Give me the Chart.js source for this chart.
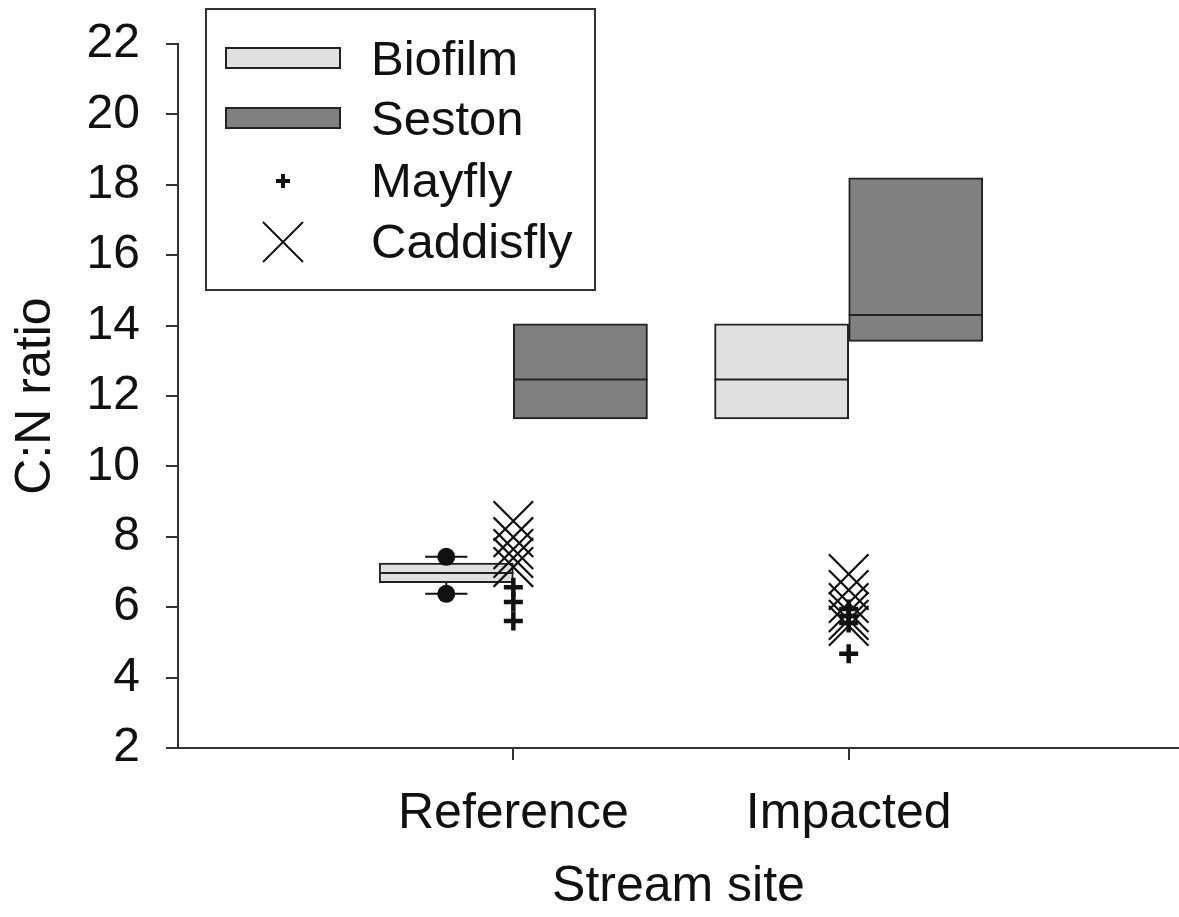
<!DOCTYPE html>
<html>
<head>
<meta charset="utf-8">
<title>C:N ratio by stream site</title>
<script src="https://cdn.jsdelivr.net/npm/chart.js@4.4.1/dist/chart.umd.min.js"></script>
<style>
    html, body { margin: 0; padding: 0; background: #fff; }
    #chart { display: block; }
</style>
</head>
<body>
<canvas id="chart" width="1179" height="917"></canvas>
<script>
// ==========================================
// Datos
// ==========================================
const sites = ['Reference', 'Impacted'];
const siteX = [1, 2];

// Biofilm: cajas (q1, mediana, q3)
const biofilmQ1 = [6.7, 11.35];
const biofilmMedian = [6.97, 12.47];
const biofilmQ3 = [7.25, 14.05];
// bigotes sólo en Reference
const biofilmLow = [6.38, null];
const biofilmHigh = [7.43, null];

// Seston: cajas
const sestonQ1 = [11.35, 13.55];
const sestonMedian = [12.47, 14.3];
const sestonQ3 = [14.05, 18.2];

// Insectos (valores individuales)
const mayflyReference = [6.57, 6.15, 5.61];
const mayflyImpacted = [5.95, 5.75, 5.55, 4.68];
const caddisflyReference = [8.45, 7.99, 7.65, 7.4, 7.14];
const caddisflyImpacted = [6.94, 6.49, 6.12, 5.86, 5.64, 5.47];

// Eje Y
const yMin = 2;
const yMax = 22;
const yStep = 2;

// ==========================================
// Estilo
// ==========================================
const FONT = "'Liberation Sans', Arial, sans-serif";
const INK = '#111';
const AXIS = '#333';
const BIOFILM_FILL = '#e0e0e0';
const SESTON_FILL = '#808080';
const BOX_EDGE = '#222';
const BOX_OFFSET = 0.2;   // separación caja/sitio (unidades de x)
const CAP_HALF = 0.063;

// ==========================================
// Construir datasets
// ==========================================
function boxes(q1, q3, shift) {
    return siteX.map((x, i) => ({ x: x + shift, y: [q1[i], q3[i]] }));
}

function medianSegments(med, shift) {
    const out = [];
    siteX.forEach((x, i) => {
        out.push({ x: x + shift - BOX_OFFSET, y: med[i] });
        out.push({ x: x + shift + BOX_OFFSET, y: med[i] });
        out.push({ x: x + shift, y: null });
    });
    return out;
}

function whiskerSegments(q1, q3, low, high, shift) {
    const out = [];
    siteX.forEach((x, i) => {
        if (low[i] == null || high[i] == null) return;
        const cx = x + shift;
        out.push({ x: cx, y: q3[i] }, { x: cx, y: high[i] }, { x: cx, y: null });
        out.push({ x: cx - CAP_HALF, y: high[i] }, { x: cx + CAP_HALF, y: high[i] }, { x: cx, y: null });
        out.push({ x: cx, y: q1[i] }, { x: cx, y: low[i] }, { x: cx, y: null });
        out.push({ x: cx - CAP_HALF, y: low[i] }, { x: cx + CAP_HALF, y: low[i] }, { x: cx, y: null });
    });
    return out;
}

function whiskerEnds(low, high, shift) {
    const out = [];
    siteX.forEach((x, i) => {
        if (high[i] != null) out.push({ x: x + shift, y: high[i] });
        if (low[i] != null) out.push({ x: x + shift, y: low[i] });
    });
    return out;
}

function points(values, x) {
    return values.map(v => ({ x: x, y: v }));
}

const datasets = [
    {
        label: 'Caddisfly',
        type: 'scatter',
        data: points(caddisflyReference, siteX[0]).concat(points(caddisflyImpacted, siteX[1])),
        pointStyle: 'crossRot',
        pointRadius: 28,
        borderColor: INK,
        borderWidth: 2.2,
        order: 0
    },
    {
        label: 'Mayfly',
        type: 'scatter',
        data: points(mayflyReference, siteX[0]).concat(points(mayflyImpacted, siteX[1])),
        pointStyle: 'cross',
        pointRadius: 9.5,
        borderColor: INK,
        borderWidth: 4.5,
        order: 0
    },
    {
        label: 'Biofilm extremes',
        type: 'scatter',
        data: whiskerEnds(biofilmLow, biofilmHigh, -BOX_OFFSET),
        pointStyle: 'circle',
        pointRadius: 9,
        backgroundColor: INK,
        borderColor: INK,
        borderWidth: 0,
        order: 1
    },
    {
        label: 'Biofilm whiskers',
        type: 'line',
        data: whiskerSegments(biofilmQ1, biofilmQ3, biofilmLow, biofilmHigh, -BOX_OFFSET),
        borderColor: INK,
        borderWidth: 2,
        pointRadius: 0,
        spanGaps: false,
        order: 2
    },
    {
        label: 'Biofilm median',
        type: 'line',
        data: medianSegments(biofilmMedian, -BOX_OFFSET),
        borderColor: BOX_EDGE,
        borderWidth: 2,
        pointRadius: 0,
        spanGaps: false,
        order: 1
    },
    {
        label: 'Seston median',
        type: 'line',
        data: medianSegments(sestonMedian, BOX_OFFSET),
        borderColor: BOX_EDGE,
        borderWidth: 2,
        pointRadius: 0,
        spanGaps: false,
        order: 1
    },
    {
        label: 'Biofilm',
        type: 'bar',
        data: boxes(biofilmQ1, biofilmQ3, -BOX_OFFSET),
        backgroundColor: BIOFILM_FILL,
        borderColor: BOX_EDGE,
        borderWidth: 2,
        borderSkipped: false,
        grouped: false,
        barPercentage: 1,
        categoryPercentage: 1,
        order: 3
    },
    {
        label: 'Seston',
        type: 'bar',
        data: boxes(sestonQ1, sestonQ3, BOX_OFFSET),
        backgroundColor: SESTON_FILL,
        borderColor: BOX_EDGE,
        borderWidth: 2,
        borderSkipped: false,
        grouped: false,
        barPercentage: 1,
        categoryPercentage: 1,
        order: 3
    }
];

// ==========================================
// Leyenda dibujada (caja arriba a la izquierda)
// ==========================================
const legendItems = [
    { label: 'Biofilm', kind: 'box', fill: BIOFILM_FILL },
    { label: 'Seston', kind: 'box', fill: SESTON_FILL },
    { label: 'Mayfly', kind: 'plus' },
    { label: 'Caddisfly', kind: 'x' }
];

const boxLegend = {
    id: 'boxLegend',
    afterDraw(chart) {
        const ctx = chart.ctx;
        ctx.save();
        ctx.strokeStyle = AXIS;
        ctx.lineWidth = 2;
        ctx.strokeRect(206, 9, 389, 281);

        const rowY = [59, 119, 181, 242];
        legendItems.forEach((item, i) => {
            const y = rowY[i];
            const cx = 283;
            if (item.kind === 'box') {
                ctx.fillStyle = item.fill;
                ctx.fillRect(226, y - 11, 114, 20);
                ctx.strokeStyle = BOX_EDGE;
                ctx.lineWidth = 2;
                ctx.strokeRect(226, y - 11, 114, 20);
            } else if (item.kind === 'plus') {
                ctx.strokeStyle = INK;
                ctx.lineWidth = 4;
                ctx.beginPath();
                ctx.moveTo(cx - 7, y); ctx.lineTo(cx + 7, y);
                ctx.moveTo(cx, y - 7); ctx.lineTo(cx, y + 7);
                ctx.stroke();
            } else {
                ctx.strokeStyle = INK;
                ctx.lineWidth = 2;
                ctx.beginPath();
                ctx.moveTo(cx - 20, y - 20); ctx.lineTo(cx + 20, y + 20);
                ctx.moveTo(cx + 20, y - 20); ctx.lineTo(cx - 20, y + 20);
                ctx.stroke();
            }
            ctx.fillStyle = INK;
            ctx.font = '49px ' + FONT;
            ctx.textAlign = 'left';
            ctx.textBaseline = 'middle';
            ctx.fillText(item.label, 371, y + 2);
        });
        ctx.restore();
    }
};

// ==========================================
// Gráfica
// ==========================================
const ctx = document.getElementById('chart');
new Chart(ctx, {
    type: 'scatter',
    data: { datasets: datasets },
    options: {
        responsive: false,
        animation: false,
        devicePixelRatio: 1,
        layout: {
            autoPadding: false,
            padding: { top: 44, right: 0, left: 0, bottom: 0 }
        },
        plugins: {
            legend: { display: false },
            tooltip: { enabled: false }
        },
        scales: {
            x: {
                type: 'linear',
                min: 0,
                max: 2.985,
                offset: false,
                afterBuildTicks: (axis) => {
                    axis.ticks = siteX.map(v => ({ value: v }));
                },
                afterFit: (axis) => {
                    axis.height = 169;
                    axis.paddingLeft = 0;
                    axis.paddingRight = 0;
                },
                grid: {
                    display: true,
                    drawOnChartArea: false,
                    offset: false,
                    tickLength: 12,
                    color: AXIS,
                    lineWidth: 2
                },
                border: { display: true, color: AXIS, width: 2 },
                ticks: {
                    color: INK,
                    font: { family: FONT, size: 50 },
                    padding: 24,
                    maxRotation: 0,
                    autoSkip: false,
                    callback: (v) => sites[siteX.indexOf(v)] || ''
                },
                title: {
                    display: true,
                    text: 'Stream site',
                    color: INK,
                    font: { family: FONT, size: 50 },
                    padding: { top: 0, bottom: 0 }
                }
            },
            y: {
                type: 'linear',
                min: yMin,
                max: yMax,
                afterFit: (axis) => {
                    axis.width = 178;
                    axis.paddingTop = 0;
                    axis.paddingBottom = 0;
                },
                grid: {
                    display: true,
                    drawOnChartArea: false,
                    tickLength: 12,
                    color: AXIS,
                    lineWidth: 2
                },
                border: { display: true, color: AXIS, width: 2 },
                ticks: {
                    stepSize: yStep,
                    color: INK,
                    font: { family: FONT, size: 48 },
                    padding: 26
                },
                title: {
                    display: true,
                    text: 'C:N ratio',
                    color: INK,
                    font: { family: FONT, size: 50 },
                    padding: { top: 6, bottom: 0 }
                }
            }
        }
    },
    plugins: [boxLegend]
});
</script>
</body>
</html>
